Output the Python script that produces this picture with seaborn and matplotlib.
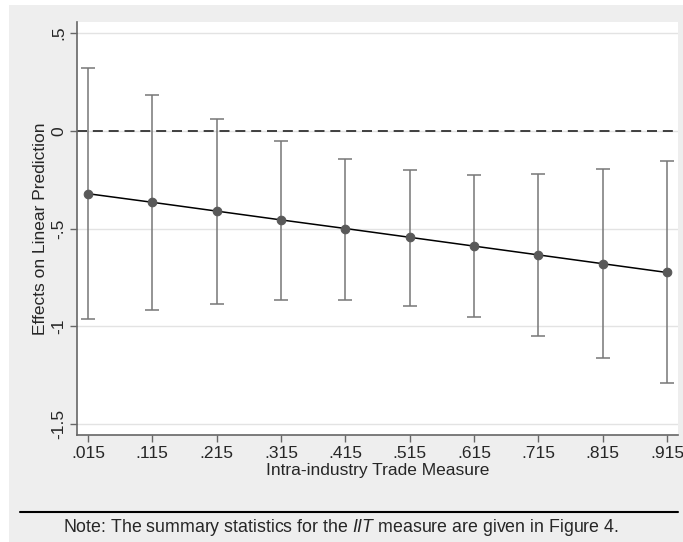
import numpy as np
import pandas as pd
import matplotlib
matplotlib.use('Agg')
import matplotlib.pyplot as plt
import seaborn as sns
from matplotlib.patches import Rectangle
from matplotlib.lines import Line2D

# values
iit = [0.015, 0.115, 0.215, 0.315, 0.415, 0.515, 0.615, 0.715, 0.815, 0.915]
effect = [-0.322, -0.366, -0.411, -0.456, -0.500, -0.545, -0.590, -0.635, -0.680, -0.725]
ciUpper = [0.321, 0.184, 0.060, -0.050, -0.145, -0.200, -0.225, -0.220, -0.195, -0.155]
ciLower = [-0.964, -0.918, -0.885, -0.865, -0.865, -0.895, -0.955, -1.049, -1.163, -1.289]
xTickLabels = ['.015', '.115', '.215', '.315', '.415', '.515', '.615', '.715', '.815', '.915']
yTicks = [-1.5, -1.0, -0.5, 0.0, 0.5]
yTickLabels = ['-1.5', '-1', '-.5', '0', '.5']

df = pd.DataFrame({'iit': iit, 'effect': effect, 'lo': ciLower, 'hi': ciUpper})

sns.set_style('white')
plt.rcParams['font.family'] = ['Liberation Sans', 'DejaVu Sans']
plt.rcParams['mathtext.fontset'] = 'custom'
plt.rcParams['mathtext.it'] = 'Liberation Sans:italic'
plt.rcParams['mathtext.rm'] = 'Liberation Sans'

FS = 12.5

fig = plt.figure(figsize=(6.83, 5.42), dpi=100)
W, H = 683.0, 542.0

# stata-like gray graph region
fig.patches.append(Rectangle((9 / W, 0), 1 - 9 / W, 1 - 5 / H, transform=fig.transFigure,
                             facecolor='#eeeeee', edgecolor='none', zorder=-10))

ax = fig.add_axes([77 / W, (H - 435) / H, (678 - 77) / W, (435 - 22) / H])
ax.set_facecolor('white')

# confidence intervals
yerr = [df['effect'] - df['lo'], df['hi'] - df['effect']]
ax.errorbar(df['iit'], df['effect'], yerr=yerr, fmt='none', ecolor='#777777',
            elinewidth=1.1, capsize=5, capthick=1.1, zorder=2)

# linear prediction
sns.lineplot(data=df, x='iit', y='effect', ax=ax, color='black', linewidth=1.1,
             marker='o', markersize=6.2, markerfacecolor='#595959',
             markeredgecolor='#595959', zorder=3)

ax.axhline(0, color='#222222', linestyle=(0, (6, 3.5)), linewidth=1.2, zorder=1)

ax.set_xlim(-0.002, 0.932)
ax.set_ylim(-1.556, 0.556)
ax.set_xticks(iit)
ax.set_xticklabels(xTickLabels, fontsize=FS)
ax.set_yticks(yTicks)
ax.set_yticklabels(yTickLabels, fontsize=FS, rotation=90, va='center')
ax.grid(axis='y', color='#e3e3e3', linewidth=1.0)
ax.set_axisbelow(True)

for side in ['top', 'right']:
    ax.spines[side].set_visible(False)
for side in ['left', 'bottom']:
    ax.spines[side].set_color('#666666')
    ax.spines[side].set_linewidth(1.2)
ax.tick_params(axis='both', direction='out', length=5, width=1.0, color='#666666',
               bottom=True, left=True, pad=3)

ax.set_xlabel('Intra-industry Trade Measure', fontsize=FS, labelpad=1)
ax.set_ylabel('Effects on Linear Prediction', fontsize=FS, labelpad=2)

# note below the graph
fig.add_artist(Line2D([20 / W, 678 / W], [(H - 512) / H, (H - 512) / H],
                      transform=fig.transFigure, color='black', linewidth=1.5))
fig.text(341 / W, (H - 527) / H,
         'Note: The summary statistics for the $\\mathit{IIT}$ measure are given in Figure 4.',
         ha='center', va='center', fontsize=12.8)

fig.savefig('out.png', dpi=100)
